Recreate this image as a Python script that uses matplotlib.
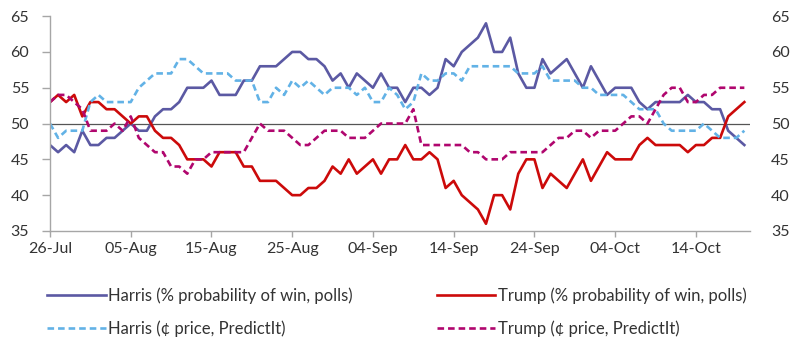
import matplotlib
matplotlib.use("Agg")
import matplotlib.pyplot as plt
import matplotlib.dates as mdates
import pandas as pd

# daily series, 26-Jul to 20-Oct
dates = pd.date_range("2024-07-26", "2024-10-20", freq="D")

harris_polls = [47, 46, 47, 46, 49, 47, 47, 48, 48, 49, 50, 49, 49, 51, 52, 52, 53, 55, 55,
                55, 56, 54, 54, 54, 56, 56, 58, 58, 58, 59, 60, 60, 59, 59, 58, 56, 57, 55,
                57, 56, 55, 57, 55, 55, 53, 55, 55, 54, 55, 59, 58, 60, 61, 62, 64, 60, 60,
                62, 57, 55, 55, 59, 57, 58, 59, 57, 55, 58, 56, 54, 55, 55, 55, 53, 52, 53,
                53, 53, 53, 54, 53, 53, 52, 52, 49, 48, 47]
trump_polls = [53, 54, 53, 54, 51, 53, 53, 52, 52, 51, 50, 51, 51, 49, 48, 48, 47, 45, 45,
               45, 44, 46, 46, 46, 44, 44, 42, 42, 42, 41, 40, 40, 41, 41, 42, 44, 43, 45,
               43, 44, 45, 43, 45, 45, 47, 45, 45, 46, 45, 41, 42, 40, 39, 38, 36, 40, 40,
               38, 43, 45, 45, 41, 43, 42, 41, 43, 45, 42, 44, 46, 45, 45, 45, 47, 48, 47,
               47, 47, 47, 46, 47, 47, 48, 48, 51, 52, 53]
harris_pi = [50, 48, 49, 49, 49, 53, 54, 53, 53, 53, 53, 55, 56, 57, 57, 57, 59, 59, 58,
             57, 57, 57, 57, 56, 56, 56, 53, 53, 55, 54, 56, 55, 56, 55, 54, 55, 55, 55,
             54, 55, 53, 53, 55, 54, 52, 53, 57, 56, 56, 57, 57, 56, 58, 58, 58, 58, 58,
             58, 57, 57, 57, 58, 56, 56, 56, 56, 55, 55, 54, 54, 54, 54, 53, 52, 52, 52,
             50, 49, 49, 49, 49, 50, 49, 48, 48, 48, 49]
trump_pi = [53, 54, 54, 53, 52, 49, 49, 49, 50, 49, 51, 48, 47, 46, 46, 44, 44, 43, 45,
            45, 46, 46, 46, 46, 46, 48, 50, 49, 49, 49, 48, 47, 47, 48, 49, 49, 49, 48,
            48, 48, 49, 50, 50, 50, 50, 52, 47, 47, 47, 47, 47, 47, 46, 46, 45, 45, 45,
            46, 46, 46, 46, 46, 47, 48, 48, 49, 49, 48, 49, 49, 49, 50, 51, 51, 50, 52,
            54, 55, 55, 53, 53, 54, 54, 55, 55, 55, 55]

tick_dates = pd.date_range("2024-07-26", periods=9, freq="10D")
yticks = [35, 40, 45, 50, 55, 60, 65]

plt.rcParams["font.family"] = ["Lato", "DejaVu Sans"]
text_col = "#333333"
axis_col = "#a6a6a6"
dash = (0, (2.5, 1.5))

fig = plt.figure(figsize=(8, 3.51), dpi=100)
ax = fig.add_axes([0.0625, 0.342, 0.875, 0.612])

l1, = ax.plot(dates, harris_polls, color="#5b59a3", lw=1.9, label="Harris (% probability of win, polls)")
l2, = ax.plot(dates, trump_polls, color="#cc0a0a", lw=1.9, label="Trump (% probability of win, polls)")
l3, = ax.plot(dates, harris_pi, color="#62b2e6", lw=1.9, ls=dash, label="Harris (¢ price, PredictIt)")
l4, = ax.plot(dates, trump_pi, color="#b0066e", lw=1.9, ls=dash, label="Trump (¢ price, PredictIt)")
ax.axhline(50, color="#555555", lw=0.9, zorder=1)

ax.set_xlim(dates[0], dates[0] + pd.Timedelta(days=86.7))
ax.set_ylim(35, 65)
ax.set_yticks(yticks)
ax.set_xticks(tick_dates)
ax.xaxis.set_major_formatter(mdates.DateFormatter("%d-%b"))

for s in ["top", "right"]:
    ax.spines[s].set_visible(False)
for s in ["left", "bottom"]:
    ax.spines[s].set_color(axis_col)
    ax.spines[s].set_linewidth(1)
ax.tick_params(axis="y", length=6, width=1, color=axis_col, labelsize=11.5, labelcolor=text_col, pad=9)
ax.tick_params(axis="x", length=4, width=1, color=axis_col, labelsize=11.5, labelcolor=text_col, pad=4)

ax2 = ax.twinx()
ax2.set_ylim(35, 65)
ax2.set_yticks(yticks)
ax2.tick_params(axis="y", length=0, labelsize=11.5, labelcolor=text_col, pad=15)
for s in ax2.spines.values():
    s.set_visible(False)

# two single-column legends, Harris on the left, Trump on the right
leg_kw = dict(loc="upper left", frameon=False, fontsize=12, labelcolor=text_col,
              handlelength=3.5, handletextpad=0.15, labelspacing=1.0,
              borderaxespad=0, borderpad=0)
leg1 = fig.legend(handles=[l1, l3], bbox_to_anchor=(0.059, 0.182), **leg_kw)
leg2 = fig.legend(handles=[l2, l4], bbox_to_anchor=(0.546, 0.182), **leg_kw)

fig.savefig("out.png", dpi=100)
